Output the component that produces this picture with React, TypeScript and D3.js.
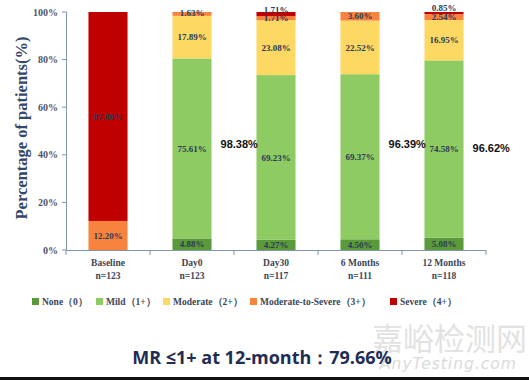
import React from "react";
import * as d3 from "d3";

const categories = ["Baseline", "Day0", "Day30", "6 Months", "12 Months"];
const nLabels = ["n=123", "n=123", "n=117", "n=111", "n=118"];
const seriesNames = ["None（0）", "Mild（1+）", "Moderate（2+）", "Moderate-to-Severe（3+）", "Severe（4+）"];
const noneVals = [0, 4.88, 4.27, 4.5, 5.08];
const mildVals = [0, 75.61, 69.23, 69.37, 74.58];
const moderateVals = [0, 17.89, 23.08, 22.52, 16.95];
const mtsVals = [12.2, 1.63, 1.71, 3.6, 2.54];
const severeVals = [87.8, 0, 1.71, 0, 0.85];
const sideLabels = ["", "98.38%", "", "96.39%", "96.62%"];
const yTicks = [0, 20, 40, 60, 80, 100];
const colors = ["#5b9a3a", "#8fcb63", "#fdd963", "#f8833e", "#c00000"];

export default function App() {
  const W = 529, H = 380;
  const x = d3.scaleBand<string>().domain(categories).range([66, 486]).paddingInner(0.535).paddingOuter(0.2675);
  const y = d3.scaleLinear().domain([0, 100]).range([250, 12]);
  const series = [noneVals, mildVals, moderateVals, mtsVals, severeVals];
  const rows = categories.map((c, i) => {
    const r: any = { cat: c };
    series.forEach((s, k) => (r["s" + k] = s[i]));
    return r;
  });
  const stacked = d3.stack().keys(series.map((_, k) => "s" + k))(rows);
  const serif = "'Liberation Serif', 'Times New Roman', serif";
  const labelColor = "#2b3a55";
  const legendX = [32, 96, 163, 250, 390];

  return (
    <svg width={W} height={H} style={{ position: "absolute", left: 0, top: 0, background: "#fff" }}>
      <rect x={0} y={0} width={W} height={H} fill="#fff" />
      {stacked.map((layer, k) =>
        layer.map((d, i) => {
          const v = d[1] - d[0];
          if (v <= 0) return null;
          const bx = x(categories[i])!;
          const y0 = y(d[0]), y1 = y(d[1]);
          let ly = (y0 + y1) / 2;
          if (k === 4 && v < 2) ly = y1 - (v < 1 ? 4.5 : 2.5);
          if (k === 3 && v < 2 && severeVals[i] === 0) ly = y1 + 0.5;
          return (
            <g key={k + "-" + i}>
              <rect x={bx} y={y1} width={x.bandwidth()} height={y0 - y1} fill={colors[k]} />
              <text x={bx + x.bandwidth() / 2} y={ly} dy="0.35em" textAnchor="middle"
                fontFamily={serif} fontWeight="bold" fontSize={9} fill={labelColor}>
                {v.toFixed(2)}%
              </text>
            </g>
          );
        })
      )}
      {/* y axis */}
      <line x1={66.5} x2={66.5} y1={12} y2={250} stroke="#7f95b0" strokeWidth={1} />
      {yTicks.map((t) => (
        <g key={t}>
          <line x1={62} x2={66.5} y1={y(t)} y2={y(t)} stroke="#7f95b0" />
          <text x={58} y={y(t)} dy="0.35em" textAnchor="end" fontFamily={serif} fontWeight="bold"
            fontSize={10} fill="#4a5468">{t}%</text>
        </g>
      ))}
      {/* x axis */}
      <line x1={66} x2={486} y1={250.5} y2={250.5} stroke="#7f95b0" />
      {d3.range(categories.length + 1).map((i) => {
        const xx = 66 + i * x.step();
        return <line key={i} x1={xx} x2={xx} y1={250} y2={255} stroke="#7f95b0" />;
      })}
      {categories.map((c, i) => (
        <g key={c}>
          <text x={x(c)! + x.bandwidth() / 2} y={266} textAnchor="middle" fontFamily={serif}
            fontWeight="bold" fontSize={9.5} fill="#3c4658">{c}</text>
          <text x={x(c)! + x.bandwidth() / 2} y={279} textAnchor="middle" fontFamily={serif}
            fontWeight="bold" fontSize={9.5} fill="#3c4658">{nLabels[i]}</text>
          {sideLabels[i] && (
            <text x={x(c)! + x.bandwidth() + 9} y={i === 4 ? 148 : 144} dy="0.35em"
              fontFamily="'Liberation Sans', Arial, sans-serif" fontWeight="bold" fontSize={11} fill="#111">
              {sideLabels[i]}
            </text>
          )}
        </g>
      ))}
      <text transform="translate(21,128) rotate(-90)" textAnchor="middle" dy="0.35em" fontFamily={serif}
        fontWeight="bold" fontSize={16.5} fill="#34476a">Percentage of patients(%)</text>
      {/* legend */}
      {seriesNames.map((s, k) => (
        <g key={s}>
          <rect x={legendX[k]} y={298} width={7} height={7} fill={colors[k]} />
          <text x={legendX[k] + 10} y={301.5} dy="0.35em" fontFamily={serif} fontWeight="bold"
            fontSize={9.5} fill="#3c4658">{s}</text>
        </g>
      ))}
      {/* watermark */}
      <text x={372} y={350} fontFamily="'Noto Sans CJK SC', sans-serif" fontSize={31} fill="#e2e2e2">嘉峪检测网</text>
      <text x={380} y={369} fontFamily="'DejaVu Sans', sans-serif" fontStyle="italic" fontSize={15.5}
        fill="#dadada" letterSpacing={1}>AnyTesting.com</text>
      <text x={262} y={358} dy="0.35em" textAnchor="middle" fontFamily="'Open Sans', 'DejaVu Sans', sans-serif"
        fontWeight="bold" fontSize={18} fill="#1f2d55">MR ≤1+ at 12-month：79.66%</text>
      <rect x={0} y={377} width={W} height={3} fill="#111" />
    </svg>
  );
}
